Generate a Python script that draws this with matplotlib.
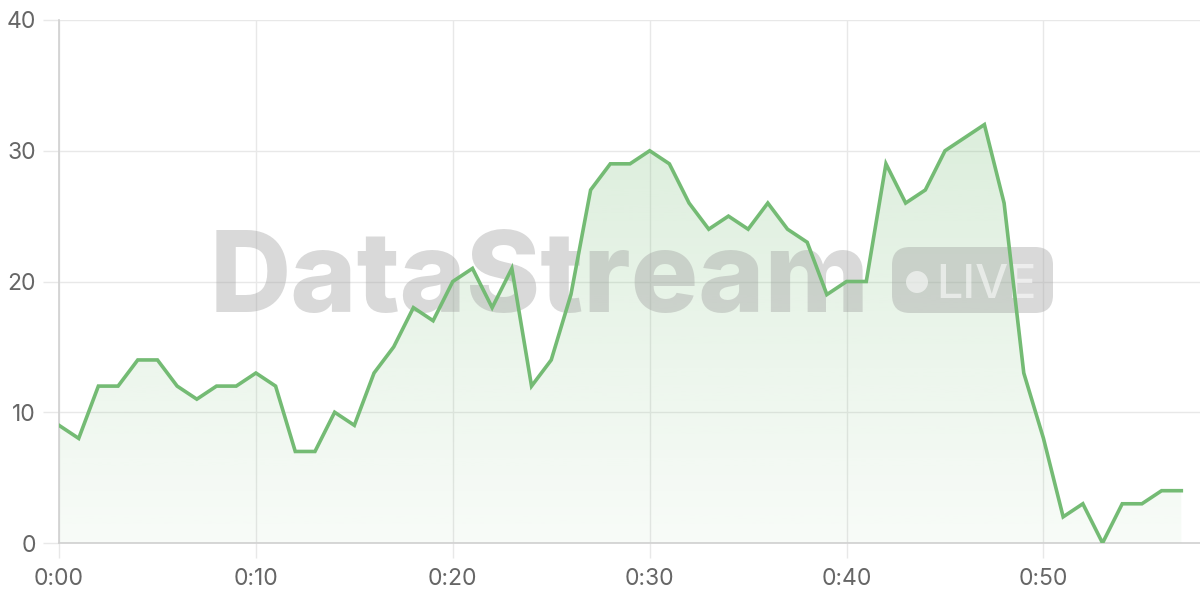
import numpy as np
import matplotlib
matplotlib.use("Agg")
import matplotlib.pyplot as plt
from matplotlib.patches import FancyBboxPatch, Circle
from matplotlib.transforms import IdentityTransform

# ---------- data ----------
minutes = list(range(58))
values = [9, 8, 12, 12, 14, 14, 12, 11, 12, 12,
          13, 12, 7, 7, 10, 9, 13, 15, 18, 17,
          20, 21, 18, 21, 12, 14, 19, 27, 29, 29,
          30, 29, 26, 24, 25, 24, 26, 24, 23, 19,
          20, 20, 29, 26, 27, 30, 31, 32, 26, 13,
          8, 2, 3, 0, 3, 3, 4, 4]
x_ticks = [0, 10, 20, 30, 40, 50]
x_tick_labels = ['0:00', '0:10', '0:20', '0:30', '0:40', '0:50']
y_ticks = [0, 10, 20, 30, 40]

line_color = '#74bb74'
grid_color = '#e8e8e8'
text_color = '#666666'
plt.rcParams['font.family'] = ['Inter', 'DejaVu Sans']

fig = plt.figure(figsize=(12, 6), dpi=100)
ax = fig.add_axes([59 / 1200, 57 / 600, 1 - 59 / 1200, 523 / 600])

ax.set_xlim(0, 57.95)
ax.set_ylim(0, 40)

# gradient fill under the line
fill = ax.fill_between(minutes, values, 0, color='none', lw=0)
grad = np.zeros((256, 1, 4))
grad[:, 0, :3] = matplotlib.colors.to_rgb(line_color)
grad[:, 0, 3] = np.linspace(0.05, 0.30, 256)
img = ax.imshow(grad, extent=[0, 57, 0, 40], origin='lower', aspect='auto', zorder=1)
for p in fill.get_paths():
    img.set_clip_path(p, transform=ax.transData)

ax.plot(minutes, values, color=line_color, lw=2.6, zorder=4, solid_joinstyle='miter')

# axes styling
ax.set_xticks(x_ticks)
ax.set_xticklabels(x_tick_labels)
ax.set_yticks(y_ticks)
ax.grid(True, color=grid_color, lw=1.0, zorder=0)
ax.set_axisbelow(True)
for side in ['top', 'right']:
    ax.spines[side].set_visible(False)
for side in ['left', 'bottom']:
    ax.spines[side].set_color('#d0d0d0')
    ax.spines[side].set_linewidth(1.2)
ax.tick_params(axis='y', length=11.5, width=1.0, color=grid_color, pad=5,
               labelsize=16.5, labelcolor=text_color)
ax.tick_params(axis='x', length=11, width=1.0, color=grid_color, pad=7,
               labelsize=16.5, labelcolor=text_color)

# watermark (pixel coordinates, origin bottom-left)
H = 600
wm_grey = '#a0a0a0'
wm_alpha = 0.4
ident = IdentityTransform()

title = ax.text(210, H - 312, 'DataStream', transform=ident, fontsize=80,
                fontweight='heavy', color=wm_grey, alpha=wm_alpha,
                ha='left', va='baseline', zorder=3)
fig.canvas.draw()
bb = title.get_window_extent()
title.set_fontsize(80 * 660 / bb.width)

badge = FancyBboxPatch((892, H - 313), 161, 66,
                       boxstyle='round,pad=0,rounding_size=18',
                       transform=ident, facecolor=wm_grey, edgecolor='none',
                       alpha=wm_alpha, zorder=3)
ax.add_patch(badge)
ax.add_patch(Circle((917, H - 282), 11, transform=ident, facecolor='white',
                    edgecolor='none', alpha=0.55, zorder=3.1))
live = ax.text(936, H - 298, 'LIVE', transform=ident, fontsize=34,
               fontweight='medium', color='white', alpha=0.55,
               ha='left', va='baseline', zorder=3.1)
fig.canvas.draw()
lb = live.get_window_extent()
live.set_fontsize(min(34 * 100 / lb.width, 36))

fig.savefig('out.png', dpi=100, facecolor='white')
